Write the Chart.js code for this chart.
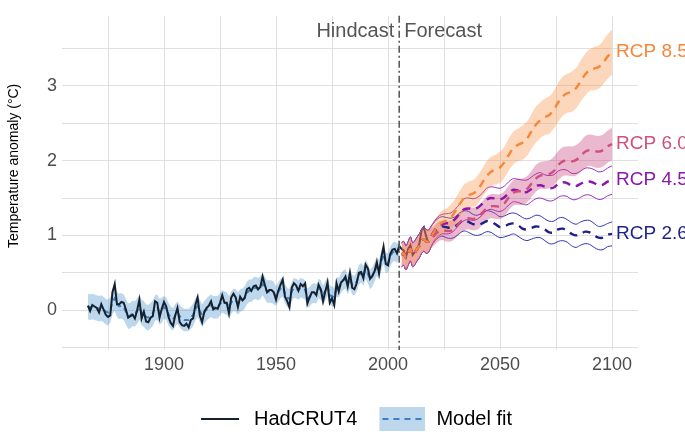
<!DOCTYPE html>
<html>
<head>
<meta charset="utf-8">
<title>Temperature anomaly - hindcast and RCP forecast</title>
<script src="https://cdn.jsdelivr.net/npm/chart.js@4.4.1/dist/chart.umd.min.js"></script>
<style>
  html, body { margin: 0; padding: 0; background: #ffffff; }
  canvas { display: block; }
</style>
</head>
<body>
<canvas id="tempChart" width="685" height="432"></canvas>
<script>
// observed HadCRUT4, one value per year from 1866 (°C)
const obsStart = 1866;
const hadcrut = [
  0.06, -0.01, 0.07, 0.05,
  0.03, -0.03, 0.08, 0.01, -0.06, -0.09, -0.07, 0.24, 0.35, 0.08,
  0.08, 0.11, 0.10, 0.01, -0.10, -0.08, -0.06, -0.11, 0.00, 0.14,
  -0.11, -0.02, -0.15, -0.16, -0.10, -0.08, 0.12, 0.10, -0.10, 0.02,
  0.11, 0.05, -0.09, -0.17, -0.21, -0.07, 0.03, -0.16, -0.20, -0.21,
  -0.18, -0.23, -0.13, -0.11, 0.07, 0.17, -0.07, -0.16, -0.02, 0.03,
  0.06, 0.12, 0.01, 0.03, 0.02, 0.10, 0.20, 0.10, 0.10, -0.04,
  0.17, 0.22, 0.17, 0.04, 0.18, 0.13, 0.16, 0.28, 0.30, 0.26,
  0.32, 0.33, 0.28, 0.31, 0.45, 0.34, 0.24, 0.27, 0.27, 0.24,
  0.14, 0.26, 0.34, 0.41, 0.18, 0.12, 0.04, 0.30, 0.36, 0.33,
  0.26, 0.35, 0.32, 0.36, 0.09, 0.17, 0.24, 0.24, 0.20, 0.34,
  0.28, 0.12, 0.25, 0.37, 0.10, 0.16, 0.07, 0.36, 0.25, 0.37,
  0.40, 0.45, 0.32, 0.50, 0.30, 0.28, 0.36, 0.50, 0.51, 0.43,
  0.61, 0.56, 0.42, 0.46, 0.52, 0.64, 0.49, 0.70, 0.85, 0.62,
  0.60, 0.75, 0.81, 0.82, 0.76, 0.86, 0.82, 0.80, 0.71, 0.82,
  0.87, 0.74, 0.78, 0.82, 0.89, 1.07, 1.11, 0.99, 0.90
];

// model fit of the hindcast, 1866-2005, with its band
const fitStart = 1866;
const fitMean = [
  0.05, 0.04, 0.05, 0.04,
  0.03, 0.02, 0.03, 0.01, -0.02, -0.03, 0.00, 0.12, 0.16, 0.08,
  0.05, 0.06, 0.04, -0.02, -0.08, -0.07, -0.04, -0.05, -0.01, 0.04,
  -0.03, -0.05, -0.09, -0.10, -0.07, -0.04, 0.03, 0.04, -0.02, 0.00,
  0.04, 0.02, -0.05, -0.10, -0.12, -0.07, -0.03, -0.08, -0.11, -0.13,
  -0.13, -0.13, -0.10, -0.06, 0.01, 0.06, -0.01, -0.07, -0.03, 0.01,
  0.04, 0.06, 0.04, 0.04, 0.04, 0.08, 0.12, 0.10, 0.09, 0.04,
  0.10, 0.14, 0.13, 0.09, 0.13, 0.14, 0.17, 0.23, 0.26, 0.26,
  0.29, 0.30, 0.28, 0.30, 0.35, 0.30, 0.25, 0.25, 0.25, 0.23,
  0.19, 0.24, 0.29, 0.31, 0.22, 0.17, 0.15, 0.25, 0.30, 0.29,
  0.27, 0.30, 0.29, 0.27, 0.16, 0.18, 0.22, 0.23, 0.22, 0.29,
  0.27, 0.20, 0.26, 0.32, 0.20, 0.19, 0.17, 0.31, 0.30, 0.36,
  0.40, 0.42, 0.34, 0.42, 0.34, 0.33, 0.38, 0.47, 0.50, 0.46,
  0.55, 0.49, 0.41, 0.45, 0.51, 0.59, 0.54, 0.66, 0.75, 0.63,
  0.63, 0.72, 0.77, 0.79, 0.76, 0.82
];
const fitLow = [
  -0.12, -0.13, -0.12, -0.13,
  -0.14, -0.15, -0.14, -0.16, -0.19, -0.20, -0.17, -0.05, -0.01, -0.09,
  -0.12, -0.11, -0.13, -0.19, -0.25, -0.24, -0.21, -0.22, -0.18, -0.13,
  -0.20, -0.22, -0.26, -0.27, -0.24, -0.21, -0.14, -0.13, -0.19, -0.17,
  -0.11, -0.13, -0.20, -0.25, -0.27, -0.22, -0.18, -0.23, -0.26, -0.28,
  -0.28, -0.28, -0.25, -0.21, -0.14, -0.09, -0.16, -0.22, -0.18, -0.14,
  -0.11, -0.09, -0.11, -0.11, -0.11, -0.07, -0.03, -0.05, -0.06, -0.11,
  -0.05, -0.01, -0.02, -0.06, -0.02, -0.01, 0.02, 0.08, 0.11, 0.11,
  0.14, 0.15, 0.13, 0.15, 0.20, 0.15, 0.10, 0.10, 0.10, 0.08,
  0.06, 0.11, 0.16, 0.18, 0.09, 0.04, 0.02, 0.12, 0.17, 0.16,
  0.14, 0.17, 0.16, 0.14, 0.03, 0.05, 0.09, 0.10, 0.09, 0.16,
  0.14, 0.07, 0.13, 0.19, 0.07, 0.06, 0.04, 0.18, 0.17, 0.23,
  0.27, 0.29, 0.21, 0.29, 0.21, 0.20, 0.25, 0.34, 0.37, 0.33,
  0.42, 0.36, 0.28, 0.32, 0.38, 0.46, 0.41, 0.53, 0.62, 0.50,
  0.50, 0.59, 0.64, 0.66, 0.63, 0.69
];
const fitHigh = [
  0.22, 0.21, 0.22, 0.21,
  0.20, 0.19, 0.20, 0.18, 0.15, 0.14, 0.17, 0.29, 0.33, 0.25,
  0.22, 0.23, 0.21, 0.15, 0.09, 0.10, 0.13, 0.12, 0.16, 0.21,
  0.14, 0.12, 0.08, 0.07, 0.10, 0.13, 0.20, 0.21, 0.15, 0.17,
  0.19, 0.17, 0.10, 0.05, 0.03, 0.08, 0.12, 0.07, 0.04, 0.02,
  0.02, 0.02, 0.05, 0.09, 0.16, 0.21, 0.14, 0.08, 0.12, 0.16,
  0.19, 0.21, 0.19, 0.19, 0.19, 0.23, 0.27, 0.25, 0.24, 0.19,
  0.25, 0.29, 0.28, 0.24, 0.28, 0.29, 0.32, 0.38, 0.41, 0.41,
  0.44, 0.45, 0.43, 0.45, 0.50, 0.45, 0.40, 0.40, 0.40, 0.38,
  0.32, 0.37, 0.42, 0.44, 0.35, 0.30, 0.28, 0.38, 0.43, 0.42,
  0.40, 0.43, 0.42, 0.40, 0.29, 0.31, 0.35, 0.36, 0.35, 0.42,
  0.40, 0.33, 0.39, 0.45, 0.33, 0.32, 0.30, 0.44, 0.43, 0.49,
  0.53, 0.55, 0.47, 0.55, 0.47, 0.46, 0.51, 0.60, 0.63, 0.59,
  0.68, 0.62, 0.54, 0.58, 0.64, 0.72, 0.67, 0.79, 0.88, 0.76,
  0.76, 0.85, 0.90, 0.92, 0.89, 0.95
];

// forecast years: every year up to 2020, then every second year
const fcYears = [
  2006, 2007, 2008, 2009, 2010, 2011, 2012, 2013, 2014, 2015, 2016, 2017, 2018, 2019,
  2020, 2022, 2024, 2026, 2028, 2030, 2032, 2034, 2036, 2038,
  2040, 2042, 2044, 2046, 2048, 2050, 2052, 2054, 2056, 2058,
  2060, 2062, 2064, 2066, 2068, 2070, 2072, 2074, 2076, 2078,
  2080, 2082, 2084, 2086, 2088, 2090, 2092, 2094, 2096, 2098, 2100
];
// common start of every scenario, 2006-2019
const fcEarlyMean = [0.74, 0.76, 0.70, 0.76, 0.82, 0.74, 0.77, 0.82, 0.86, 0.92, 0.95, 0.92, 0.92, 0.97];
const fcEarlyLow  = [0.58, 0.60, 0.54, 0.60, 0.66, 0.58, 0.61, 0.66, 0.70, 0.76, 0.79, 0.76, 0.77, 0.83];
const fcEarlyHigh = [0.90, 0.92, 0.86, 0.92, 0.98, 0.90, 0.93, 0.98, 1.02, 1.08, 1.11, 1.08, 1.07, 1.11];

// scenarios, 2020-2100 every second year
const rcp85Mean = [1.02, 1.11, 1.17, 1.20, 1.24, 1.32, 1.42, 1.50, 1.54, 1.56, 1.61, 1.70, 1.79, 1.85, 1.88, 1.91, 1.98, 2.08, 2.17, 2.21,
                   2.24, 2.29, 2.39, 2.48, 2.54, 2.58, 2.61, 2.68, 2.78, 2.86, 2.90, 2.92, 2.97, 3.06, 3.15, 3.21, 3.23, 3.25, 3.31, 3.39, 3.45];
const rcp85Low  = [0.87, 0.96, 1.01, 1.04, 1.08, 1.15, 1.25, 1.32, 1.36, 1.38, 1.42, 1.51, 1.59, 1.65, 1.68, 1.70, 1.77, 1.87, 1.95, 1.99,
                   2.01, 2.06, 2.16, 2.24, 2.30, 2.34, 2.36, 2.43, 2.52, 2.60, 2.64, 2.65, 2.70, 2.79, 2.87, 2.93, 2.94, 2.96, 3.02, 3.09, 3.15];
const rcp85High = [1.17, 1.26, 1.33, 1.36, 1.41, 1.49, 1.59, 1.68, 1.72, 1.74, 1.80, 1.89, 1.99, 2.05, 2.08, 2.12, 2.19, 2.30, 2.39, 2.43,
                   2.47, 2.52, 2.62, 2.72, 2.78, 2.83, 2.86, 2.93, 3.04, 3.12, 3.16, 3.19, 3.24, 3.34, 3.43, 3.49, 3.52, 3.54, 3.60, 3.69, 3.75];

const rcp60Mean = [0.98, 1.04, 1.07, 1.06, 1.06, 1.10, 1.17, 1.22, 1.23, 1.22, 1.24, 1.30, 1.36, 1.39, 1.39, 1.39, 1.43, 1.51, 1.57, 1.59,
                   1.59, 1.62, 1.69, 1.76, 1.80, 1.81, 1.82, 1.86, 1.94, 1.99, 2.00, 1.99, 2.01, 2.06, 2.12, 2.14, 2.13, 2.12, 2.14, 2.19, 2.22];
const rcp60Low  = [0.85, 0.91, 0.94, 0.92, 0.92, 0.96, 1.02, 1.07, 1.08, 1.07, 1.08, 1.14, 1.20, 1.23, 1.22, 1.22, 1.26, 1.34, 1.40, 1.41,
                   1.41, 1.44, 1.51, 1.58, 1.62, 1.62, 1.63, 1.67, 1.74, 1.79, 1.80, 1.79, 1.80, 1.85, 1.91, 1.93, 1.91, 1.90, 1.92, 1.97, 2.00];
const rcp60High = [1.11, 1.17, 1.20, 1.19, 1.20, 1.24, 1.31, 1.36, 1.37, 1.37, 1.39, 1.45, 1.52, 1.55, 1.55, 1.55, 1.59, 1.67, 1.74, 1.76,
                   1.76, 1.79, 1.86, 1.94, 1.98, 1.99, 2.00, 2.05, 2.13, 2.18, 2.19, 2.19, 2.21, 2.26, 2.33, 2.35, 2.34, 2.33, 2.35, 2.40, 2.44];

const rcp45Mean = [1.03, 1.11, 1.15, 1.16, 1.17, 1.22, 1.29, 1.35, 1.36, 1.35, 1.37, 1.42, 1.48, 1.50, 1.49, 1.48, 1.51, 1.57, 1.61, 1.60,
                   1.58, 1.58, 1.62, 1.66, 1.67, 1.65, 1.63, 1.64, 1.69, 1.71, 1.70, 1.66, 1.66, 1.69, 1.72, 1.72, 1.70, 1.67, 1.68, 1.72, 1.74];
const rcp45Low  = [0.90, 0.98, 1.02, 1.02, 1.03, 1.08, 1.15, 1.20, 1.21, 1.20, 1.22, 1.27, 1.33, 1.35, 1.33, 1.32, 1.35, 1.41, 1.45, 1.44,
                   1.42, 1.41, 1.45, 1.49, 1.50, 1.48, 1.46, 1.47, 1.51, 1.53, 1.52, 1.48, 1.48, 1.51, 1.54, 1.54, 1.51, 1.48, 1.49, 1.53, 1.55];
const rcp45High = [1.16, 1.24, 1.28, 1.29, 1.30, 1.35, 1.42, 1.49, 1.50, 1.49, 1.51, 1.56, 1.63, 1.65, 1.64, 1.63, 1.66, 1.72, 1.76, 1.75,
                   1.74, 1.74, 1.78, 1.82, 1.84, 1.81, 1.80, 1.81, 1.86, 1.88, 1.87, 1.83, 1.83, 1.86, 1.90, 1.90, 1.88, 1.85, 1.86, 1.90, 1.93];

const rcp26Mean = [1.02, 1.09, 1.12, 1.11, 1.10, 1.12, 1.17, 1.20, 1.18, 1.15, 1.14, 1.16, 1.19, 1.18, 1.15, 1.11, 1.12, 1.15, 1.16, 1.14,
                   1.09, 1.08, 1.10, 1.12, 1.11, 1.08, 1.04, 1.04, 1.08, 1.09, 1.06, 1.02, 1.00, 1.02, 1.05, 1.04, 1.00, 0.97, 0.97, 1.01, 1.02];
const rcp26Low  = [0.89, 0.96, 0.99, 0.97, 0.96, 0.98, 1.03, 1.06, 1.04, 1.01, 1.00, 1.02, 1.05, 1.04, 1.00, 0.97, 0.98, 1.00, 1.02, 0.99,
                   0.95, 0.93, 0.95, 0.97, 0.97, 0.93, 0.89, 0.89, 0.92, 0.93, 0.91, 0.86, 0.84, 0.87, 0.89, 0.88, 0.84, 0.81, 0.81, 0.85, 0.86];
const rcp26High = [1.15, 1.22, 1.25, 1.24, 1.23, 1.25, 1.30, 1.33, 1.32, 1.28, 1.27, 1.30, 1.33, 1.32, 1.29, 1.25, 1.26, 1.29, 1.30, 1.28,
                   1.24, 1.22, 1.24, 1.27, 1.26, 1.22, 1.19, 1.19, 1.23, 1.24, 1.21, 1.17, 1.15, 1.18, 1.20, 1.20, 1.16, 1.12, 1.13, 1.16, 1.18];

const scenarioNames = ['RCP 8.5', 'RCP 6.0', 'RCP 4.5', 'RCP 2.6'];
const xTickLabels = [1900, 1950, 2000, 2050, 2100];
const yTickLabels = [0, 1, 2, 3];
const splitYear = 2005;

// colours
const scenarioColors = ['#f5873b', '#d14f7d', '#8a18a8', '#1f1f88'];
const obsColor = '#15212f';
const fitColor = '#3b80c4';
const fitFill = 'rgba(66, 140, 200, 0.35)';
const fontFamily = '"Liberation Sans", Arial, sans-serif';

function series(startYear, vals) {
  return vals.map(function(v, i) { return { x: startYear + i, y: v }; });
}
function forecast(early, later) {
  const vals = early.concat(later);
  return vals.map(function(v, i) { return { x: fcYears[i], y: v }; });
}

// little pictures for the legend keys (left margin keeps them off the previous text)
function legendKey(kind) {
  const c = document.createElement('canvas');
  c.width = 54; c.height = 24;
  const g = c.getContext('2d');
  if (kind === 'band') {
    g.fillStyle = fitFill;
    g.fillRect(8, 0, 46, 24);
    g.strokeStyle = fitColor;
    g.lineWidth = 2;
    g.setLineDash([6, 5]);
    g.beginPath(); g.moveTo(11, 12); g.lineTo(52, 12); g.stroke();
  } else {
    g.strokeStyle = obsColor;
    g.lineWidth = 2;
    g.beginPath(); g.moveTo(12, 12); g.lineTo(50, 12); g.stroke();
  }
  return c;
}
const keyObs = legendKey('line');
const keyFit = legendKey('band');

const thin = { pointRadius: 0, borderWidth: 0, fill: false };

const datasets = [
  // dashed scenario means (top)
  { label: 'RCP 8.5 mean', data: forecast(fcEarlyMean, rcp85Mean), borderColor: scenarioColors[0], borderWidth: 2.4, borderDash: [8, 6], pointRadius: 0, tension: 0.35, order: 1 },
  { label: 'RCP 6.0 mean', data: forecast(fcEarlyMean, rcp60Mean), borderColor: scenarioColors[1], borderWidth: 2.4, borderDash: [8, 6], pointRadius: 0, tension: 0.35, order: 2 },
  { label: 'RCP 4.5 mean', data: forecast(fcEarlyMean, rcp45Mean), borderColor: scenarioColors[2], borderWidth: 2.4, borderDash: [8, 6], pointRadius: 0, tension: 0.35, order: 3 },
  { label: 'RCP 2.6 mean', data: forecast(fcEarlyMean, rcp26Mean), borderColor: scenarioColors[3], borderWidth: 2.4, borderDash: [8, 6], pointRadius: 0, tension: 0.35, order: 4 },
  // bands
  Object.assign({ label: 'RCP 8.5 low', data: forecast(fcEarlyLow, rcp85Low), tension: 0.35, order: 10 }, thin),
  { label: 'RCP 8.5 high', data: forecast(fcEarlyHigh, rcp85High), pointRadius: 0, borderWidth: 0, tension: 0.35, order: 10,
    fill: { target: 4 }, backgroundColor: 'rgba(246, 140, 60, 0.35)' },
  Object.assign({ label: 'RCP 6.0 low', data: forecast(fcEarlyLow, rcp60Low), tension: 0.35, order: 11 }, thin),
  { label: 'RCP 6.0 high', data: forecast(fcEarlyHigh, rcp60High), pointRadius: 0, borderWidth: 0, tension: 0.35, order: 11,
    fill: { target: 6 }, backgroundColor: 'rgba(200, 70, 130, 0.38)' },
  { label: 'RCP 4.5 low', data: forecast(fcEarlyLow, rcp45Low), borderColor: '#9a2cc0', borderWidth: 1, pointRadius: 0, tension: 0.35, order: 12 },
  { label: 'RCP 4.5 high', data: forecast(fcEarlyHigh, rcp45High), borderColor: '#9a2cc0', borderWidth: 1, pointRadius: 0, tension: 0.35, order: 12 },
  { label: 'RCP 2.6 low', data: forecast(fcEarlyLow, rcp26Low), borderColor: '#3434b4', borderWidth: 1, pointRadius: 0, tension: 0.35, order: 13 },
  { label: 'RCP 2.6 high', data: forecast(fcEarlyHigh, rcp26High), borderColor: '#3434b4', borderWidth: 1, pointRadius: 0, tension: 0.35, order: 13 },
  // hindcast
  { label: 'HadCRUT4', data: series(obsStart, hadcrut), borderColor: obsColor, borderWidth: 2, pointRadius: 0, order: 20 },
  { label: 'Model fit', data: series(fitStart, fitMean), borderColor: fitColor, borderWidth: 2, borderDash: [5, 4], pointRadius: 0, order: 21 },
  Object.assign({ label: 'fit low', data: series(fitStart, fitLow), order: 22 }, thin),
  { label: 'fit high', data: series(fitStart, fitHigh), pointRadius: 0, borderWidth: 0, order: 22,
    fill: { target: 14 }, backgroundColor: fitFill }
];

// dash-dot divider, its captions, the scenario names and the y title
const annotations = {
  id: 'annotations',
  afterDatasetsDraw: function(chart) {
    const ctx = chart.ctx;
    const xs = chart.scales.x, ys = chart.scales.y, area = chart.chartArea;
    const xSplit = xs.getPixelForValue(splitYear);
    ctx.save();
    ctx.strokeStyle = '#5a5a5a';
    ctx.lineWidth = 1.6;
    ctx.setLineDash([7, 3, 2, 3]);
    ctx.beginPath();
    ctx.moveTo(xSplit, area.top);
    ctx.lineTo(xSplit, area.bottom);
    ctx.stroke();
    ctx.setLineDash([]);

    ctx.font = '20px ' + fontFamily;
    ctx.fillStyle = '#555555';
    ctx.textBaseline = 'middle';
    ctx.textAlign = 'right';
    ctx.fillText('Hindcast', xSplit - 5, area.top + 16);
    ctx.textAlign = 'left';
    ctx.fillText('Forecast', xSplit + 5, area.top + 16);

    const ends = [rcp85Mean, rcp60Mean, rcp45Mean, rcp26Mean];
    const lastYear = fcYears[fcYears.length - 1];
    ctx.font = '19px ' + fontFamily;
    ends.forEach(function(vals, i) {
      ctx.fillStyle = scenarioColors[i];
      ctx.fillText(scenarioNames[i], xs.getPixelForValue(lastYear) + 4, ys.getPixelForValue(vals[vals.length - 1]));
    });

    ctx.translate(14, (area.top + area.bottom) / 2 - 17);
    ctx.rotate(-Math.PI / 2);
    ctx.textAlign = 'center';
    ctx.fillStyle = '#000000';
    ctx.font = '14px ' + fontFamily;
    ctx.fillText('Temperature anomaly (°C)', 0, 0);
    ctx.restore();
  }
};

new Chart(document.getElementById('tempChart'), {
  type: 'line',
  data: { datasets: datasets },
  options: {
    responsive: false,
    animation: false,
    events: [],
    layout: { padding: { top: 0, right: 47, bottom: -7, left: 0 } },
    plugins: {
      tooltip: { enabled: false },
      legend: {
        position: 'bottom',
        fullSize: false,
        labels: {
          usePointStyle: true,
          pointStyleWidth: 56,
          padding: 13,
          color: '#1a1a1a',
          font: { family: fontFamily, size: 20 },
          generateLabels: function() {
            return [
              { text: 'HadCRUT4', pointStyle: keyObs, datasetIndex: 12, lineWidth: 0, strokeStyle: 'rgba(0,0,0,0)', fillStyle: 'rgba(0,0,0,0)' },
              { text: 'Model fit', pointStyle: keyFit, datasetIndex: 13, lineWidth: 0, strokeStyle: 'rgba(0,0,0,0)', fillStyle: 'rgba(0,0,0,0)' }
            ];
          }
        }
      }
    },
    scales: {
      x: {
        type: 'linear',
        min: 1854.46,
        max: 2111.6,
        afterBuildTicks: function(scale) {
          scale.ticks = scale.ticks.filter(function(t) { return Math.abs(t.value % 25) < 1e-6; });
        },
        afterFit: function(scale) { scale.height = 46; },
        ticks: {
          stepSize: 25,
          includeBounds: false,
          autoSkip: false,
          maxRotation: 0,
          padding: 4,
          color: '#4d4d4d',
          font: { family: fontFamily, size: 18 },
          callback: function(v) { return xTickLabels.indexOf(v) >= 0 ? String(v) : ''; }
        },
        grid: { color: '#e0e0e0', lineWidth: 1, drawTicks: false },
        border: { display: false }
      },
      y: {
        min: -0.532,
        max: 3.936,
        afterBuildTicks: function(scale) {
          scale.ticks = scale.ticks.filter(function(t) { return Math.abs(t.value * 2 - Math.round(t.value * 2)) < 1e-6; });
        },
        afterFit: function(scale) { scale.width = 62; },
        ticks: {
          stepSize: 0.5,
          includeBounds: false,
          padding: 5,
          color: '#4d4d4d',
          font: { family: fontFamily, size: 18 },
          callback: function(v) {
            const r = Math.round(v);
            return (Math.abs(v - r) < 1e-6 && yTickLabels.indexOf(r) >= 0) ? String(r) : '';
          }
        },
        grid: { color: '#e0e0e0', lineWidth: 1, drawTicks: false },
        border: { display: false }
      }
    }
  },
  plugins: [annotations]
});
</script>
</body>
</html>
